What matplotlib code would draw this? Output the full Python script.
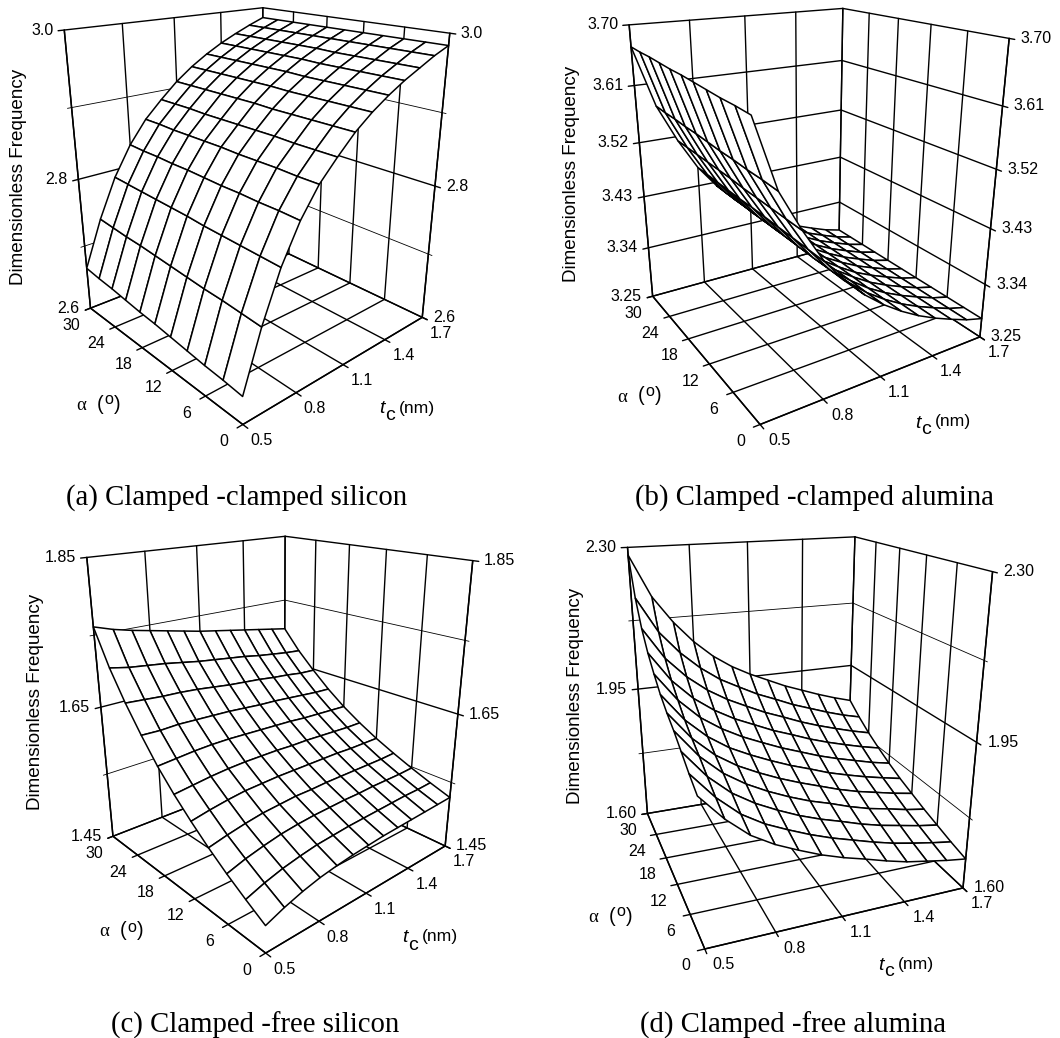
import numpy as np
import matplotlib
matplotlib.use('Agg')
import matplotlib.pyplot as plt
from mpl_toolkits.mplot3d import proj3d

W, H = 1060, 1038

tc = np.array([0.5, 0.6, 0.7, 0.8, 0.9, 1.0, 1.1, 1.2, 1.3, 1.4, 1.5, 1.6, 1.7])
alpha = np.array([0, 3, 6, 9, 12, 15, 18, 21, 24, 27, 30])
tc_ticks = [0.5, 0.8, 1.1, 1.4, 1.7]
alpha_ticks = [0, 6, 12, 18, 24, 30]

# rows are alpha, columns are tc
freq_a = [
    [2.638, 2.715, 2.778, 2.825, 2.860, 2.885, 2.908, 2.926, 2.941, 2.954, 2.965, 2.976, 2.985],
    [2.641, 2.717, 2.779, 2.826, 2.860, 2.885, 2.908, 2.926, 2.941, 2.954, 2.965, 2.976, 2.985],
    [2.643, 2.719, 2.780, 2.826, 2.861, 2.885, 2.908, 2.926, 2.941, 2.954, 2.965, 2.976, 2.985],
    [2.646, 2.720, 2.781, 2.827, 2.861, 2.886, 2.908, 2.926, 2.941, 2.954, 2.965, 2.976, 2.985],
    [2.649, 2.722, 2.782, 2.827, 2.861, 2.886, 2.908, 2.926, 2.941, 2.954, 2.965, 2.976, 2.985],
    [2.652, 2.724, 2.784, 2.828, 2.862, 2.886, 2.909, 2.927, 2.942, 2.955, 2.966, 2.976, 2.985],
    [2.654, 2.726, 2.785, 2.829, 2.862, 2.886, 2.909, 2.927, 2.942, 2.955, 2.966, 2.976, 2.985],
    [2.657, 2.728, 2.786, 2.829, 2.862, 2.886, 2.909, 2.927, 2.942, 2.955, 2.966, 2.976, 2.985],
    [2.660, 2.729, 2.787, 2.830, 2.862, 2.887, 2.909, 2.927, 2.942, 2.955, 2.966, 2.976, 2.985],
    [2.662, 2.731, 2.788, 2.830, 2.863, 2.887, 2.909, 2.927, 2.942, 2.955, 2.966, 2.976, 2.985],
    [2.665, 2.733, 2.789, 2.831, 2.863, 2.887, 2.909, 2.927, 2.942, 2.955, 2.966, 2.976, 2.985],
]
freq_b = [
    [3.651, 3.558, 3.502, 3.453, 3.417, 3.388, 3.364, 3.344, 3.327, 3.313, 3.301, 3.290, 3.282],
    [3.653, 3.560, 3.503, 3.454, 3.418, 3.389, 3.364, 3.344, 3.327, 3.313, 3.301, 3.290, 3.282],
    [3.654, 3.561, 3.504, 3.455, 3.418, 3.389, 3.365, 3.344, 3.327, 3.313, 3.301, 3.290, 3.282],
    [3.656, 3.563, 3.505, 3.456, 3.419, 3.390, 3.365, 3.345, 3.327, 3.313, 3.301, 3.290, 3.282],
    [3.658, 3.564, 3.506, 3.457, 3.420, 3.390, 3.365, 3.345, 3.327, 3.313, 3.301, 3.290, 3.282],
    [3.660, 3.566, 3.508, 3.458, 3.421, 3.391, 3.366, 3.345, 3.328, 3.313, 3.301, 3.290, 3.282],
    [3.661, 3.568, 3.509, 3.458, 3.421, 3.391, 3.366, 3.345, 3.328, 3.313, 3.301, 3.290, 3.282],
    [3.663, 3.569, 3.510, 3.459, 3.422, 3.392, 3.366, 3.345, 3.328, 3.313, 3.301, 3.290, 3.282],
    [3.665, 3.571, 3.511, 3.460, 3.423, 3.392, 3.366, 3.346, 3.328, 3.313, 3.301, 3.290, 3.282],
    [3.666, 3.572, 3.512, 3.461, 3.423, 3.393, 3.367, 3.346, 3.328, 3.313, 3.301, 3.290, 3.282],
    [3.668, 3.574, 3.513, 3.462, 3.424, 3.393, 3.367, 3.346, 3.328, 3.313, 3.301, 3.290, 3.282],
]
freq_c = [
    [1.487, 1.497, 1.505, 1.511, 1.515, 1.518, 1.520, 1.522, 1.523, 1.524, 1.525, 1.526, 1.527],
    [1.503, 1.512, 1.519, 1.524, 1.528, 1.530, 1.532, 1.533, 1.534, 1.535, 1.536, 1.536, 1.537],
    [1.520, 1.528, 1.534, 1.539, 1.542, 1.544, 1.545, 1.546, 1.546, 1.547, 1.547, 1.547, 1.548],
    [1.539, 1.545, 1.550, 1.554, 1.556, 1.558, 1.558, 1.559, 1.559, 1.559, 1.559, 1.559, 1.560],
    [1.560, 1.565, 1.569, 1.572, 1.573, 1.574, 1.574, 1.574, 1.574, 1.574, 1.573, 1.573, 1.573],
    [1.583, 1.586, 1.589, 1.591, 1.592, 1.592, 1.592, 1.591, 1.591, 1.590, 1.589, 1.588, 1.588],
    [1.609, 1.611, 1.613, 1.614, 1.614, 1.613, 1.612, 1.611, 1.610, 1.608, 1.607, 1.606, 1.605],
    [1.640, 1.639, 1.640, 1.639, 1.638, 1.637, 1.635, 1.633, 1.632, 1.630, 1.628, 1.626, 1.625],
    [1.674, 1.672, 1.670, 1.669, 1.667, 1.664, 1.661, 1.659, 1.657, 1.654, 1.652, 1.649, 1.648],
    [1.713, 1.708, 1.705, 1.702, 1.698, 1.694, 1.691, 1.688, 1.685, 1.681, 1.678, 1.675, 1.673],
    [1.761, 1.753, 1.747, 1.742, 1.737, 1.732, 1.727, 1.723, 1.719, 1.715, 1.711, 1.707, 1.703],
]
freq_d = [
    [1.932, 1.876, 1.832, 1.802, 1.779, 1.758, 1.741, 1.727, 1.712, 1.699, 1.690, 1.681, 1.674],
    [1.950, 1.892, 1.847, 1.816, 1.793, 1.772, 1.754, 1.739, 1.724, 1.711, 1.701, 1.692, 1.684],
    [1.971, 1.910, 1.865, 1.833, 1.808, 1.786, 1.768, 1.753, 1.737, 1.724, 1.714, 1.704, 1.696],
    [1.992, 1.929, 1.883, 1.850, 1.824, 1.802, 1.783, 1.768, 1.751, 1.737, 1.727, 1.716, 1.708],
    [2.009, 1.946, 1.900, 1.867, 1.842, 1.820, 1.801, 1.784, 1.767, 1.753, 1.742, 1.731, 1.722],
    [2.030, 1.966, 1.920, 1.886, 1.861, 1.839, 1.819, 1.802, 1.784, 1.770, 1.757, 1.746, 1.736],
    [2.058, 1.992, 1.944, 1.910, 1.883, 1.861, 1.840, 1.822, 1.804, 1.789, 1.776, 1.763, 1.753],
    [2.090, 2.020, 1.971, 1.935, 1.907, 1.885, 1.863, 1.845, 1.826, 1.810, 1.796, 1.783, 1.772],
    [2.132, 2.057, 2.006, 1.967, 1.937, 1.913, 1.890, 1.871, 1.851, 1.834, 1.819, 1.805, 1.793],
    [2.191, 2.106, 2.050, 2.006, 1.971, 1.945, 1.920, 1.900, 1.879, 1.862, 1.845, 1.830, 1.818],
    [2.282, 2.180, 2.113, 2.059, 2.016, 1.983, 1.957, 1.935, 1.913, 1.895, 1.877, 1.861, 1.847],
]

z_major_a = [2.6, 2.8, 3.0]
z_minor_a = [2.7, 2.9]
z_major_b = [3.25, 3.34, 3.43, 3.52, 3.61, 3.70]
z_minor_b = []
z_major_c = [1.45, 1.65, 1.85]
z_minor_c = [1.55, 1.75]
z_major_d = [1.60, 1.95, 2.30]
z_minor_d = [1.775, 2.125]

captions = ['(a) Clamped -clamped silicon', '(b) Clamped -clamped alumina',
            '(c) Clamped -free silicon', '(d) Clamped -free alumina']

# camera of each panel, fitted once to the box corners of the reference
view_a = dict(elev=20.7841, azim=-131.9226, f=0.2896, ay=0.9981, az=1.183, left=22.2908, top=-37.2596, size=452.0814)
view_b = dict(elev=20.534, azim=-121.8463, f=0.2891, ay=1.0072, az=1.189, left=573.5895, top=-38.0867, size=456.3631)
view_c = dict(elev=20.5171, azim=-131.8871, f=0.2865, ay=1.0029, az=1.1863, left=44.4994, top=490.3192, size=452.7601)
view_d = dict(elev=20.0376, azim=-110.9279, f=0.2923, ay=1.0206, az=1.1858, left=551.7782, top=486.7019, size=465.3109)

plt.rcParams['font.family'] = ['Liberation Sans', 'DejaVu Sans']
fig = plt.figure(figsize=(W / 100, H / 100), dpi=100)

def px(x, y):
    return x / W, 1 - y / H

def draw_panel(v, freq, z_major, z_minor, z_fmt, caption, cap_xy, ylab_xy, alpha_xy, t_xy):
    ax = fig.add_axes([v['left'] / W, 1 - (v['top'] + v['size']) / H, v['size'] / W, v['size'] / H],
                      projection='3d', computed_zorder=False)
    ax.patch.set_visible(False)
    ax.set_axis_off()
    ax.view_init(v['elev'], v['azim'])
    ax.set_proj_type('persp', focal_length=v['f'])
    ax.set_box_aspect((1, v['ay'], v['az']))
    zmin, zmax = z_major[0], z_major[-1]
    ax.set_xlim(tc[0], tc[-1])
    ax.set_ylim(alpha[0], alpha[-1])
    ax.set_zlim(zmin, zmax)
    dt, da = 0.03, 0.75

    def seg(xs, ys, zs, lw=1.0):
        ax.plot(xs, ys, zs, color='k', lw=lw, zorder=1, clip_on=False, solid_capstyle='round')

    t0, t1, a0, a1 = tc[0], tc[-1], alpha[0], alpha[-1]
    for t in tc_ticks:
        seg([t, t], [a0 - da, a1], [zmin, zmin])
        seg([t, t], [a1, a1], [zmin, zmax])
    for a in alpha_ticks:
        seg([t0 - dt, t1], [a, a], [zmin, zmin])
        seg([t1, t1], [a, a], [zmin, zmax])
    for z in z_major:
        seg([t0 - dt, t1], [a1, a1], [z, z])
        seg([t1, t1], [a0 - da, a1], [z, z])
    for z in z_minor:
        seg([t0 - dt * 0.7, t1], [a1, a1], [z, z], 0.6)
        seg([t1, t1], [a0 - da * 0.7, a1], [z, z], 0.6)
    seg([t0, t0], [a0, a1], [zmin, zmin], 1.1)
    seg([t0, t1], [a0, a0], [zmin, zmin], 1.1)
    seg([t0, t0], [a1, a1], [zmin, zmax], 1.1)
    seg([t1, t1], [a0, a0], [zmin, zmax], 1.1)

    T, A = np.meshgrid(tc, alpha)
    surf = ax.plot_surface(T, A, np.array(freq), rstride=1, cstride=1, color='white', edgecolor='k',
                           linewidth=1.1, shade=False, zorder=3)
    surf.set_clip_on(False)
    ax.set_xlim(t0, t1)
    ax.set_ylim(a0, a1)
    ax.set_zlim(zmin, zmax)

    M = ax.get_proj()
    def label(x, y, z, s, dx, dy, ha):
        X, Y, _ = proj3d.proj_transform(x, y, z, M)
        ax.annotate(s, xy=(X, Y), xytext=(dx, dy), textcoords='offset pixels', ha=ha, va='center',
                    fontsize=11.5, annotation_clip=False)

    for a in alpha_ticks:
        label(t0, a, zmin, str(a), -19, -17, 'center')
    for t in tc_ticks:
        label(t, a0, zmin, '%.1f' % t, 19, -16, 'center')
    for z in z_major:
        label(t0, a1, z, z_fmt % z, -11, 0, 'right')
        label(t1, a0, z, z_fmt % z, 11, 0, 'left')

    fig.text(*px(*cap_xy), caption, family=['Liberation Serif'], fontsize=20.7, ha='center', va='center')
    fig.text(*px(*ylab_xy), 'Dimensionless Frequency', fontsize=13.6, rotation=90, ha='center', va='center')
    lx, ly = alpha_xy
    fig.text(*px(lx, ly), 'α', family=['Liberation Serif'], fontsize=13.5, ha='center', va='center')
    fig.text(*px(lx + 28 - 8.5, ly - 1), '(', fontsize=14.5, ha='center', va='center')
    fig.text(*px(lx + 28 + 8.5, ly - 1), ')', fontsize=14.5, ha='center', va='center')
    fig.text(*px(lx + 28, ly - 5), 'o', fontsize=11.5, ha='center', va='center')
    tx, ty = t_xy
    fig.text(*px(tx - 1, ty), 't', style='italic', fontsize=14, ha='center', va='center')
    fig.text(*px(tx + 2, ty + 7), 'c', fontsize=14, ha='left', va='center')
    fig.text(*px(tx + 34, ty - 1), '(nm)', fontsize=12.6, ha='center', va='center')

draw_panel(view_a, freq_a, z_major_a, z_minor_a, '%.1f', captions[0], (237, 498), (19, 177), (81, 405), (383, 409))
draw_panel(view_b, freq_b, z_major_b, z_minor_b, '%.2f', captions[1], (814, 498), (571, 174), (622, 397), (919, 423))
draw_panel(view_c, freq_c, z_major_c, z_minor_c, '%.2f', captions[2], (255, 1025), (36, 702), (104, 932), (406, 938))
draw_panel(view_d, freq_d, z_major_d, z_minor_d, '%.2f', captions[3], (793, 1025), (575, 696), (593, 917), (882, 965))

fig.savefig('out.png', dpi=100, facecolor='white')
